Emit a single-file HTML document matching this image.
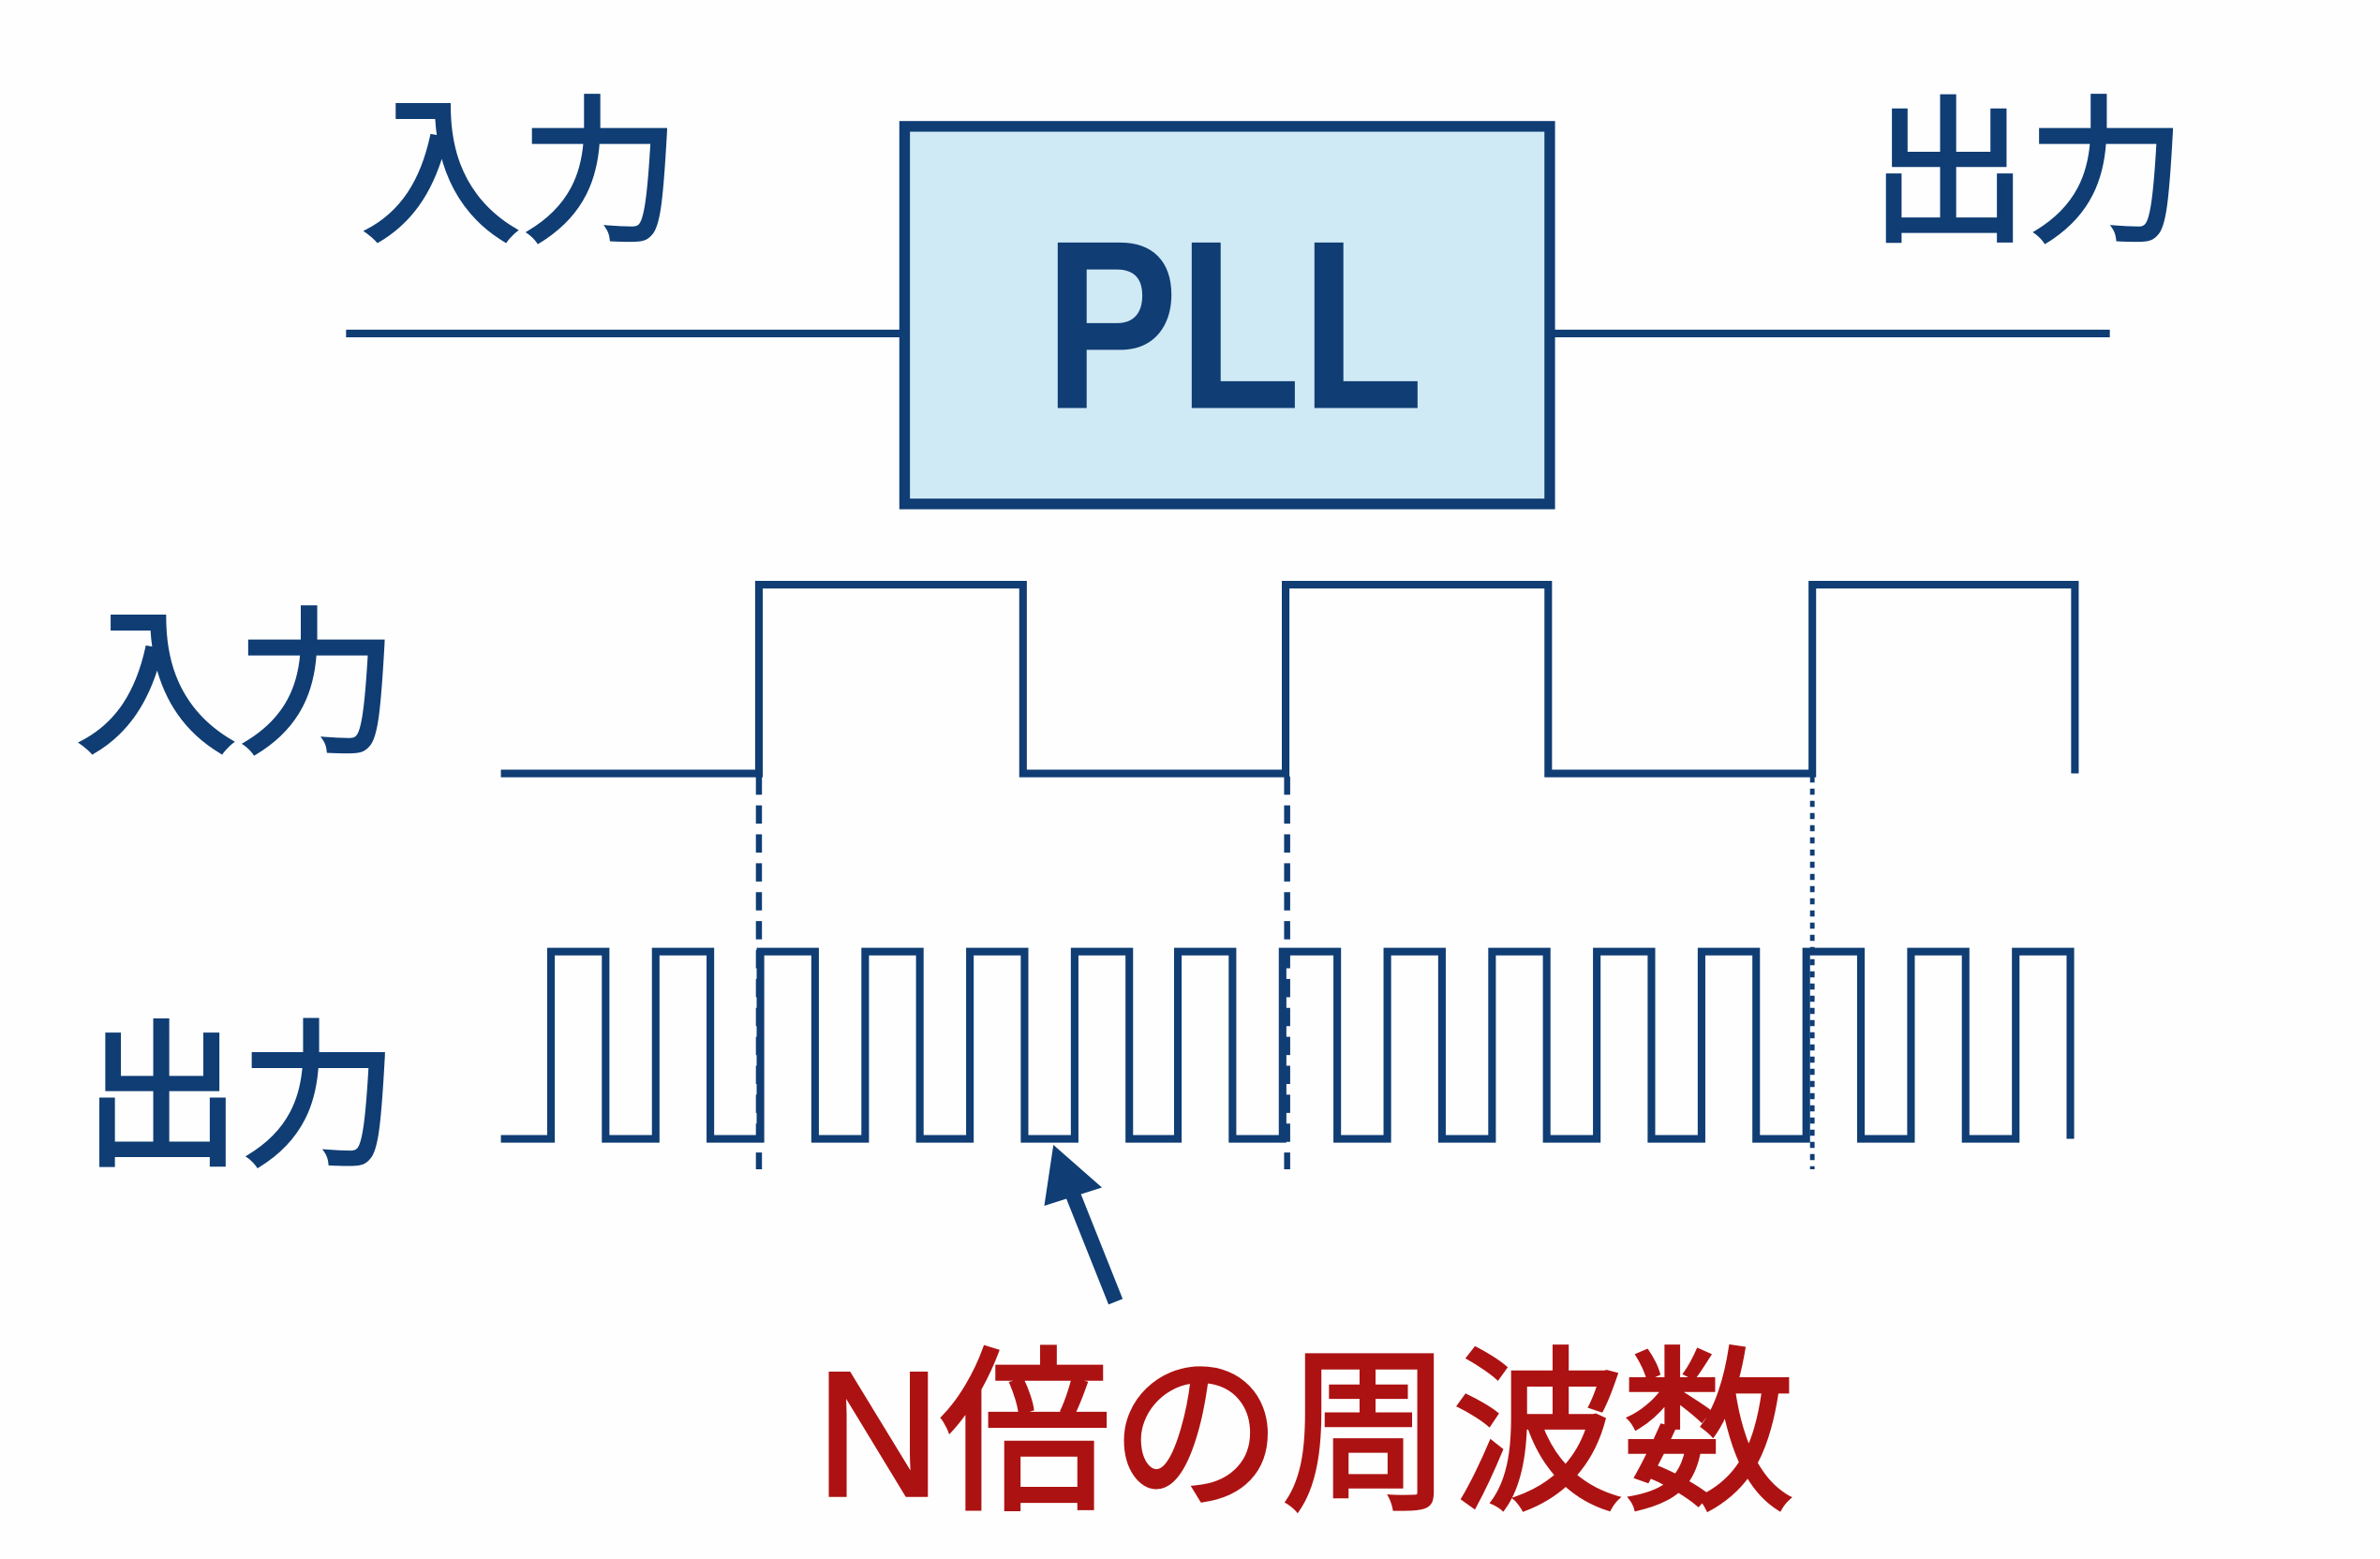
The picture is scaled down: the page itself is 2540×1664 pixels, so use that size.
<!DOCTYPE html>
<html><head><meta charset="utf-8"><style>
html,body{margin:0;padding:0;background:#fff;}
svg{display:block;}
</style></head><body>
<svg width="2540" height="1664" viewBox="0 0 1568 1024" preserveAspectRatio="none" xmlns="http://www.w3.org/2000/svg">
<rect width="1568" height="1024" fill="#fefefe"/>
<g stroke="#0f3d74" fill="none" stroke-width="5">
<line x1="228" y1="219" x2="594" y2="219"/>
<line x1="1022" y1="219" x2="1390" y2="219"/>
<rect x="596" y="83" width="425" height="248" fill="#cfe9f5" stroke-width="7"/>
<path d="M330,508 H500 V384 H674 V508 H847 V384 H1020 V508 H1194 V384 H1367 V508" stroke-width="5"/>
<path d="M330,748 H363 V625 H399 V748 H432 V625 H468 V748 H501 V625 H537 V748 H570 V625 H606 V748 H639 V625 H675 V748 H708 V625 H744 V748 H776 V625 H812 V748 H845 V625 H881 V748 H914 V625 H950 V748 H983 V625 H1019 V748 H1052 V625 H1088 V748 H1121 V625 H1157 V748 H1190 V625 H1226 V748 H1259 V625 H1295 V748 H1328 V625 H1364 V748" stroke-width="5"/>
<line x1="500" y1="510" x2="500" y2="768" stroke-width="4" stroke-dasharray="12,7"/>
<line x1="848" y1="510" x2="848" y2="768" stroke-width="4" stroke-dasharray="12,7"/>
<line x1="1194" y1="510" x2="1194" y2="768" stroke-width="3" stroke-dasharray="4,4"/>
<line x1="735" y1="855" x2="703" y2="775" stroke-width="10"/>
</g>
<polygon points="694,752 726,780 688,792" fill="#0f3d74"/>
<g font-family="'Liberation Sans','Noto Sans CJK JP',sans-serif" fill="#0f3d74" stroke="#0f3d74" stroke-width="2.5">
<text x="238" y="150" font-size="104" textLength="210" lengthAdjust="spacingAndGlyphs">入力</text>
<text x="1232" y="150" font-size="104" textLength="208" lengthAdjust="spacingAndGlyphs">出力</text>
<text x="50" y="486" font-size="104" textLength="212" lengthAdjust="spacingAndGlyphs">入力</text>
<text x="55" y="757" font-size="104" textLength="207" lengthAdjust="spacingAndGlyphs">出力</text>
</g>
<text x="688" y="268" font-family="'Liberation Sans',sans-serif" font-size="158" font-weight="bold" fill="#0f3d74" textLength="250" lengthAdjust="spacingAndGlyphs">PLL</text>
<text x="538" y="982" font-family="'Liberation Sans','Noto Sans CJK JP',sans-serif" font-size="116" fill="#ad1212" stroke="#ad1212" stroke-width="2.5" textLength="644" lengthAdjust="spacingAndGlyphs">N倍の周波数</text>
</svg>
</body></html>
